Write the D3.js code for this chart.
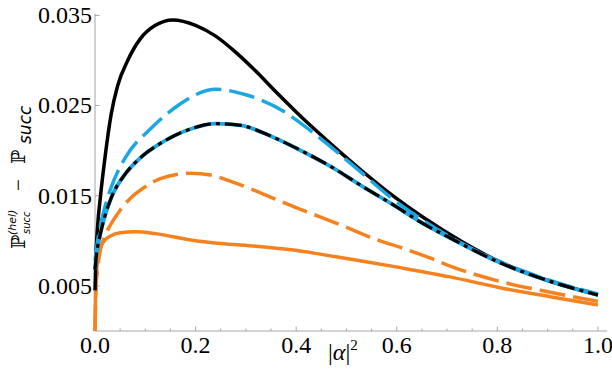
<!DOCTYPE html>
<html>
<head>
<meta charset="utf-8">
<script src="https://cdn.jsdelivr.net/npm/d3@7"></script>
<style>
body { margin: 0; background: #fff; }
.serif { font-family: 'Liberation Serif', 'DejaVu Serif', serif; }
.sans { font-family: 'DejaVu Sans', 'Liberation Sans', sans-serif; }
.bb { font-family: 'DejaVu Serif', 'DejaVu Sans', serif; }
</style>
</head>
<body>
<svg id="chart" width="612" height="380"></svg>
<script>
// tick values
var xTicks = [0, 0.2, 0.4, 0.6, 0.8, 1.0];
var xMinorTicks = [0.05, 0.1, 0.15, 0.25, 0.3, 0.35, 0.45, 0.5, 0.55, 0.65, 0.7, 0.75, 0.85, 0.9, 0.95];
var yTicks = [0.005, 0.015, 0.025, 0.035];

// curves, [|alpha|^2, difference]
var blackSolid = [[0, 0.0045], [0.002, 0.0085], [0.005, 0.0115], [0.011, 0.015], [0.02, 0.0193],
    [0.032, 0.0240], [0.045, 0.0272], [0.065, 0.0300], [0.09, 0.0324], [0.12, 0.0339], [0.155, 0.0345],
    [0.2, 0.0339], [0.24, 0.0327], [0.28, 0.0309], [0.32, 0.0288], [0.36, 0.0265], [0.40, 0.0243],
    [0.44, 0.0222], [0.48, 0.0202], [0.53, 0.0178], [0.59, 0.0151], [0.65, 0.0127], [0.73, 0.0099],
    [0.8, 0.0078], [0.9, 0.0056], [1.0, 0.0040]];
var blueDashed = [[0, 0.0078], [0.003, 0.0092], [0.01, 0.0115], [0.02, 0.0138], [0.03, 0.0156],
    [0.06, 0.0192], [0.11, 0.0224], [0.17, 0.0252], [0.2, 0.0262], [0.24, 0.0268], [0.3, 0.0262],
    [0.374, 0.0244], [0.41, 0.0230], [0.467, 0.0205], [0.527, 0.0177], [0.586, 0.0149], [0.646, 0.0125],
    [0.726, 0.0098], [0.8, 0.0078], [0.9, 0.0057], [1.0, 0.0041]];
var blueDashDot = [[0, 0.0068], [0.003, 0.0085], [0.01, 0.0106], [0.02, 0.0128], [0.034, 0.0150],
    [0.06, 0.0174], [0.09, 0.0192], [0.13, 0.0208], [0.19, 0.0224], [0.24, 0.0230], [0.29, 0.0228],
    [0.35, 0.0216], [0.41, 0.0200], [0.47, 0.0182], [0.53, 0.0161], [0.59, 0.0141], [0.65, 0.0120],
    [0.71, 0.0102], [0.8, 0.0077], [0.9, 0.0056], [1.0, 0.0040]];
var orangeDashed = [[0, 0], [0.002, 0.0048], [0.005, 0.0068], [0.01, 0.0088], [0.02, 0.0106],
    [0.03, 0.0117], [0.05, 0.0134], [0.07, 0.0147], [0.1, 0.0160], [0.13, 0.0169], [0.19, 0.0175],
    [0.23, 0.0173], [0.27, 0.0166], [0.33, 0.0153], [0.39, 0.0139], [0.487, 0.0118], [0.567, 0.0100],
    [0.606, 0.0093], [0.666, 0.0081], [0.706, 0.0072], [0.805, 0.0055], [0.905, 0.0043], [1.0, 0.0033]];
var orangeSolid = [[0, 0], [0.001, 0.0042], [0.003, 0.0065], [0.006, 0.0081], [0.01, 0.0091],
    [0.02, 0.0101], [0.03, 0.0105], [0.05, 0.0109], [0.08, 0.0110], [0.12, 0.0108], [0.19, 0.0101],
    [0.25, 0.0097], [0.32, 0.0094], [0.39, 0.0090], [0.45, 0.0085], [0.527, 0.0078], [0.61, 0.0070],
    [0.706, 0.0060], [0.805, 0.0048], [0.905, 0.0038], [1.0, 0.0029]];

var blue = '#1ba7e3',
    orange = '#f5821f',
    axisGray = '#a6a6a6';

var svg = d3.select('#chart');

var x = d3.scaleLinear().domain([0, 1.018]).range([95, 607]);
var y = d3.scaleLinear().domain([0, 0.0352]).range([331, 13.6]);

// axes, ticks pointing inward like the original
svg.append('line')
    .attr('x1', x(0)).attr('x2', x(1.018))
    .attr('y1', y(0)).attr('y2', y(0))
    .style('stroke', axisGray).style('stroke-width', 1);
svg.append('line')
    .attr('x1', x(0)).attr('x2', x(0))
    .attr('y1', y(0)).attr('y2', y(0.0352))
    .style('stroke', axisGray).style('stroke-width', 1);

svg.selectAll('.xmajor').data(xTicks).enter().append('line')
    .attr('class', 'xmajor')
    .attr('x1', function (d) { return x(d); }).attr('x2', function (d) { return x(d); })
    .attr('y1', y(0)).attr('y2', y(0) - 4.5)
    .style('stroke', axisGray);
svg.selectAll('.xminor').data(xMinorTicks).enter().append('line')
    .attr('class', 'xminor')
    .attr('x1', function (d) { return x(d); }).attr('x2', function (d) { return x(d); })
    .attr('y1', y(0)).attr('y2', y(0) - 2.5)
    .style('stroke', axisGray);
svg.selectAll('.ymajor').data(yTicks).enter().append('line')
    .attr('class', 'ymajor')
    .attr('x1', x(0)).attr('x2', x(0) + 4.5)
    .attr('y1', function (d) { return y(d); }).attr('y2', function (d) { return y(d); })
    .style('stroke', axisGray);

svg.selectAll('.xlab').data(xTicks).enter().append('text')
    .attr('class', 'xlab serif')
    .attr('x', function (d) { return x(d); })
    .attr('y', 353)
    .attr('text-anchor', 'middle')
    .style('font-size', '24px')
    .text(function (d) { return d3.format('.1f')(d); });
svg.selectAll('.ylab').data(yTicks).enter().append('text')
    .attr('class', 'ylab serif')
    .attr('x', 92)
    .attr('y', function (d) { return y(d) + 7.8; })
    .attr('text-anchor', 'end')
    .style('font-size', '24px')
    .text(function (d) { return d3.format('.3f')(d); });

// curves
var line = d3.line()
    .x(function (d) { return x(d[0]); })
    .y(function (d) { return y(d[1]); })
    .curve(d3.curveMonotoneX);

var curves = [
    {data: orangeSolid, color: orange, dash: null, w: 3.5},
    {data: orangeDashed, color: orange, dash: '26,8', w: 3.5},
    {data: blackSolid, color: '#000', dash: null, w: 3.5},
    {data: blueDashed, color: blue, dash: '26,8', w: 3.5},
    {data: blueDashDot, color: blue, dash: null, w: 3.9},
    {data: blueDashDot, color: '#000', dash: '17,5,4,5', w: 3.2}
];
svg.append('g').selectAll('path').data(curves).enter().append('path')
    .attr('d', function (d) { return line(d.data); })
    .style('fill', 'none')
    .style('stroke', function (d) { return d.color; })
    .style('stroke-width', function (d) { return d.w; })
    .style('stroke-dasharray', function (d) { return d.dash; });

// x label |alpha|^2
var xl = svg.append('text')
    .attr('class', 'serif')
    .attr('x', 328).attr('y', 360)
    .style('font-size', '24px');
xl.append('tspan').text('|');
xl.append('tspan').style('font-style', 'italic').text('α');
xl.append('tspan').text('|');
xl.append('tspan').attr('dy', -10).style('font-size', '15px').text('2');

// y label, rotated
var yl = svg.append('g').attr('transform', 'translate(25,172) rotate(-90)');
yl.append('text').attr('class', 'bb').attr('x', -77).attr('y', 0)
    .style('font-size', '19px').text('ℙ');
yl.append('text').attr('class', 'sans').attr('x', -62).attr('y', 5)
    .style('font-style', 'italic').style('font-size', '10px').text('succ');
yl.append('text').attr('class', 'sans').attr('x', -63).attr('y', -9)
    .style('font-style', 'italic').style('font-size', '11px').text('(hel)');
yl.append('text').attr('class', 'serif').attr('x', -19).attr('y', 0)
    .style('font-size', '21px').text('−');
yl.append('text').attr('class', 'bb').attr('x', 8).attr('y', 0)
    .style('font-size', '19px').text('ℙ');
yl.append('text').attr('class', 'sans').attr('x', 28).attr('y', 6)
    .style('font-style', 'italic').style('font-size', '17px').text('succ');
</script>
</body>
</html>
